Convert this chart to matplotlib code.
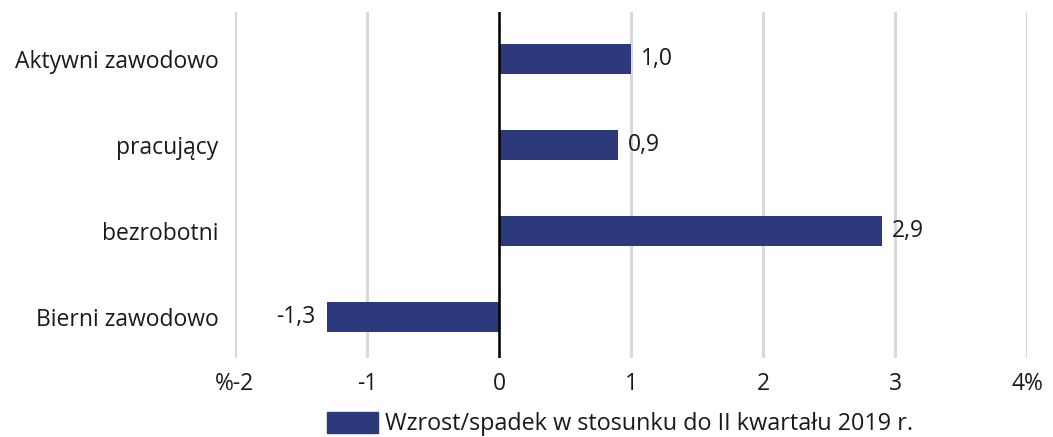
import matplotlib
matplotlib.use("Agg")
import matplotlib.pyplot as plt
from matplotlib.patches import Patch

categories = ["Aktywni zawodowo", "pracujący", "bezrobotni", "Bierni zawodowo"]
values = [1.0, 0.9, 2.9, -1.3]
xticks = [-2, -1, 0, 1, 2, 3, 4]
xtick_labels = ["%-2", "-1", "0", "1", "2", "3", "4%"]
legend_label = "Wzrost/spadek w stosunku do II kwartału 2019 r."

plt.rcParams['font.family'] = ['Open Sans', 'DejaVu Sans']
color = "#2c3a7c"
tc = "#1a1a1a"
fs = 16.5

fig = plt.figure(figsize=(10.53, 4.37), dpi=100)
ax = fig.add_axes([235/1053, 1-358/437, (1027-235)/1053, (358-12)/437])

n = len(categories)
ypos = [n - 1 - i for i in range(n)]
ax.barh(ypos, values, height=0.35, color=color, zorder=3)
ax.set_xlim(-2, 4)
ax.set_ylim(-0.48, 3.55)
ax.set_xticks(xticks)
ax.set_xticklabels(xtick_labels, fontsize=fs, color=tc)
ax.set_yticks(ypos)
ax.set_yticklabels(categories, fontsize=fs, color=tc)
ax.tick_params(axis='x', length=0, pad=10)
ax.tick_params(axis='y', length=0, pad=12)
for s in ax.spines.values():
    s.set_visible(False)
ax.grid(axis='x', color="#d9d9d9", linewidth=2.2, zorder=0)
ax.axvline(0, color="black", linewidth=1.8, zorder=4)

for y, v in zip(ypos, values):
    lbl = f"{v:.1f}".replace(".", ",")
    if v >= 0:
        ax.annotate(lbl, (v, y), xytext=(7, 0), textcoords="offset points",
                    ha="left", va="center", fontsize=fs, color=tc)
    else:
        ax.annotate(lbl, (v, y), xytext=(-9, 0), textcoords="offset points",
                    ha="right", va="center", fontsize=fs, color=tc)

handle = Patch(color=color, label=legend_label)
fig.legend(handles=[handle], loc="center", bbox_to_anchor=(620/1053, 1-424/437),
           frameon=False, prop={'size': 16.8}, handlelength=2.19,
           handleheight=1.0, handletextpad=0.3, labelcolor=tc)

fig.savefig("out.png", dpi=100)
